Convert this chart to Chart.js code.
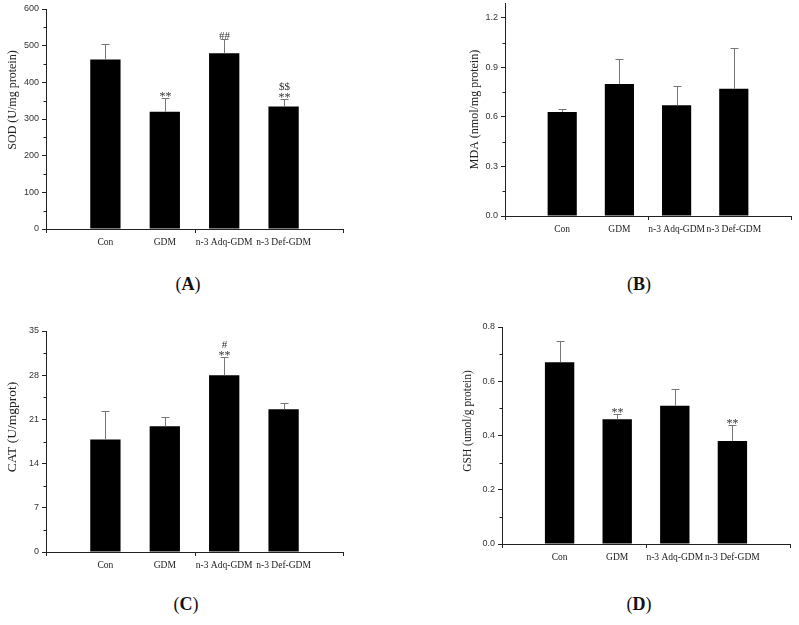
<!DOCTYPE html>
<html>
<head>
<meta charset="utf-8">
<script src="https://cdn.jsdelivr.net/npm/chart.js@4.4.1/dist/chart.umd.min.js"></script>
<style>
  body { margin: 0; background: #fff; width: 799px; height: 625px; position: relative; overflow: hidden; }
  canvas { position: absolute; }
  .tag { position: absolute; width: 60px; text-align: center; font: 18px "Liberation Serif", "Times New Roman", serif; color: #111; line-height: 20px; }
</style>
</head>
<body>
<canvas id="chartA" width="400" height="260" style="left:0;top:0"></canvas>
<canvas id="chartB" width="399" height="260" style="left:400px;top:0"></canvas>
<canvas id="chartC" width="400" height="280" style="left:0;top:300px"></canvas>
<canvas id="chartD" width="399" height="280" style="left:400px;top:300px"></canvas>
<div class="tag" style="left:158px;top:274px">(<b>A</b>)</div>
<div class="tag" style="left:609px;top:274px">(<b>B</b>)</div>
<div class="tag" style="left:156px;top:594px">(<b>C</b>)</div>
<div class="tag" style="left:609px;top:594px">(<b>D</b>)</div>
<script>
// groups on the x axis
const groups = ['Con', 'GDM', 'n-3 Adq-GDM', 'n-3 Def-GDM'];

// SOD
const sodMean = [462, 320, 479, 334];
const sodErr = [43, 36, 40, 20];
const sodMarks = [[], ['**'], ['##'], ['**', '$$']];
const sodTicks = [0, 100, 200, 300, 400, 500, 600];

// MDA
const mdaMean = [0.63, 0.80, 0.67, 0.77];
const mdaErr = [0.02, 0.15, 0.12, 0.25];
const mdaMarks = [[], [], [], []];
const mdaTicks = [0, 0.3, 0.6, 0.9, 1.2];

// CAT
const catMean = [17.8, 19.9, 28.0, 22.6];
const catErr = [4.5, 1.5, 2.9, 1.0];
const catMarks = [[], [], ['**', '#'], []];
const catTicks = [0, 7, 14, 21, 28, 35];

// GSH
const gshMean = [0.67, 0.46, 0.51, 0.38];
const gshErr = [0.08, 0.02, 0.06, 0.06];
const gshMarks = [[], ['**'], [], ['**']];
const gshTicks = [0, 0.2, 0.4, 0.6, 0.8];

const serif = '"Liberation Serif", "Times New Roman", serif';
const sans = '"Liberation Sans", Arial, sans-serif';

// error bars, significance marks, minor ticks and the rotated y titles
const extras = {
  id: 'extras',
  afterDraw(chart, args, o) {
    const ctx = chart.ctx;
    const x = chart.scales.x, y = chart.scales.y;
    const meta = chart.getDatasetMeta(0);
    ctx.save();
    ctx.lineWidth = 1;

    // minor y ticks + x ticks
    ctx.strokeStyle = '#222';
    ctx.beginPath();
    for (let k = 1; (2 * k - 1) * o.minor < y.max; k++) {
      const py = Math.round(y.getPixelForValue((2 * k - 1) * o.minor)) + 0.5;
      ctx.moveTo(x.left - 2.5, py);
      ctx.lineTo(x.left, py);
    }
    [0, 2.5, 5].forEach(v => {
      const px = Math.round(x.getPixelForValue(v)) + 0.5;
      ctx.moveTo(px, y.bottom);
      ctx.lineTo(px, y.bottom + 4);
    });
    ctx.stroke();

    // error bars (upper only)
    ctx.strokeStyle = '#777';
    meta.data.forEach((bar, i) => {
      const v = chart.data.datasets[0].data[i];
      if (v == null) return;
      const px = Math.round(bar.x) + 0.5;
      const top = y.getPixelForValue(v);
      const tip = Math.round(y.getPixelForValue(v + o.err[i - 1])) + 0.5;
      ctx.beginPath();
      ctx.moveTo(px, top);
      ctx.lineTo(px, tip);
      ctx.moveTo(px - 4, tip);
      ctx.lineTo(px + 4, tip);
      ctx.stroke();

      ctx.fillStyle = '#333';
      ctx.textAlign = 'center';
      ctx.textBaseline = 'alphabetic';
      o.marks[i - 1].forEach((s, j) => {
        ctx.font = (s === '**' ? 12 : 11) + 'px ' + serif;
        const m = ctx.measureText(s);
        const cy = tip - 4 - j * 9;
        ctx.fillText(s, px, cy + (m.actualBoundingBoxAscent - m.actualBoundingBoxDescent) / 2);
      });
    });

    // y axis title
    ctx.translate(o.titleX, o.titleY);
    ctx.rotate(-Math.PI / 2);
    ctx.fillStyle = '#222';
    ctx.font = o.titleSize + 'px ' + serif;
    ctx.textAlign = 'center';
    ctx.textBaseline = 'middle';
    ctx.fillText(o.title, 0, 0);
    ctx.restore();
  }
};

function makeChart(id, p) {
  new Chart(document.getElementById(id), {
    type: 'bar',
    data: {
      labels: ['', ...groups, ''],
      datasets: [{
        data: [null, ...p.mean, null],
        backgroundColor: '#000',
        borderWidth: 0,
        categoryPercentage: 1,
        barPercentage: 0.51
      }]
    },
    options: {
      responsive: false,
      animation: false,
      layout: { padding: { left: 0, top: p.area.top, right: p.w - p.area.right, bottom: 0 } },
      scales: {
        x: {
          type: 'category',
          offset: false,
          grid: { display: false, drawTicks: false },
          border: { display: true, color: '#222', width: 1 },
          ticks: { autoSkip: false, maxRotation: 0, padding: 8, color: '#222', font: { family: serif, size: 9.5 } },
          afterFit: s => { s.height = p.h - p.area.bottom; s.paddingLeft = 0; s.paddingRight = 0; }
        },
        y: {
          min: 0,
          max: p.max,
          afterBuildTicks: s => { s.ticks = p.ticks.map(v => ({ value: v })); },
          afterFit: s => { s.width = p.area.left; s.paddingTop = 0; s.paddingBottom = 0; },
          grid: { display: true, drawOnChartArea: false, drawTicks: true, tickLength: 4, color: '#222' },
          border: { display: true, color: '#222', width: 1 },
          ticks: { padding: 3, color: '#333', font: { family: sans, size: 9 }, callback: v => v.toFixed(p.dec) }
        }
      },
      plugins: {
        legend: { display: false },
        tooltip: { enabled: false },
        extras: {
          err: p.err, marks: p.marks, minor: p.minor,
          title: p.title, titleSize: p.titleSize, titleX: p.titleX, titleY: p.titleY
        }
      }
    },
    plugins: [extras]
  });
}

makeChart('chartA', {
  w: 400, h: 260, area: { left: 46, right: 343, top: 9, bottom: 229 },
  mean: sodMean, err: sodErr, marks: sodMarks, ticks: sodTicks, max: 600, minor: 50, dec: 0,
  title: 'SOD (U/mg protein)', titleSize: 12, titleX: 12.5, titleY: 100
});
makeChart('chartB', {
  w: 399, h: 260, area: { left: 105, right: 391, top: 3, bottom: 216 },
  mean: mdaMean, err: mdaErr, marks: mdaMarks, ticks: mdaTicks, max: 1.29, minor: 0.15, dec: 1,
  title: 'MDA (nmol/mg protein)', titleSize: 12, titleX: 75, titleY: 109.5
});
makeChart('chartC', {
  w: 400, h: 280, area: { left: 46, right: 343, top: 31, bottom: 252 },
  mean: catMean, err: catErr, marks: catMarks, ticks: catTicks, max: 35, minor: 3.5, dec: 0,
  title: 'CAT (U/mgprot)', titleSize: 13.5, titleX: 12.5, titleY: 127
});
makeChart('chartD', {
  w: 399, h: 280, area: { left: 102, right: 390, top: 27, bottom: 244 },
  mean: gshMean, err: gshErr, marks: gshMarks, ticks: gshTicks, max: 0.8, minor: 0.1, dec: 1,
  title: 'GSH (umol/g protein)', titleSize: 11.5, titleX: 68, titleY: 121
});
</script>
</body>
</html>
